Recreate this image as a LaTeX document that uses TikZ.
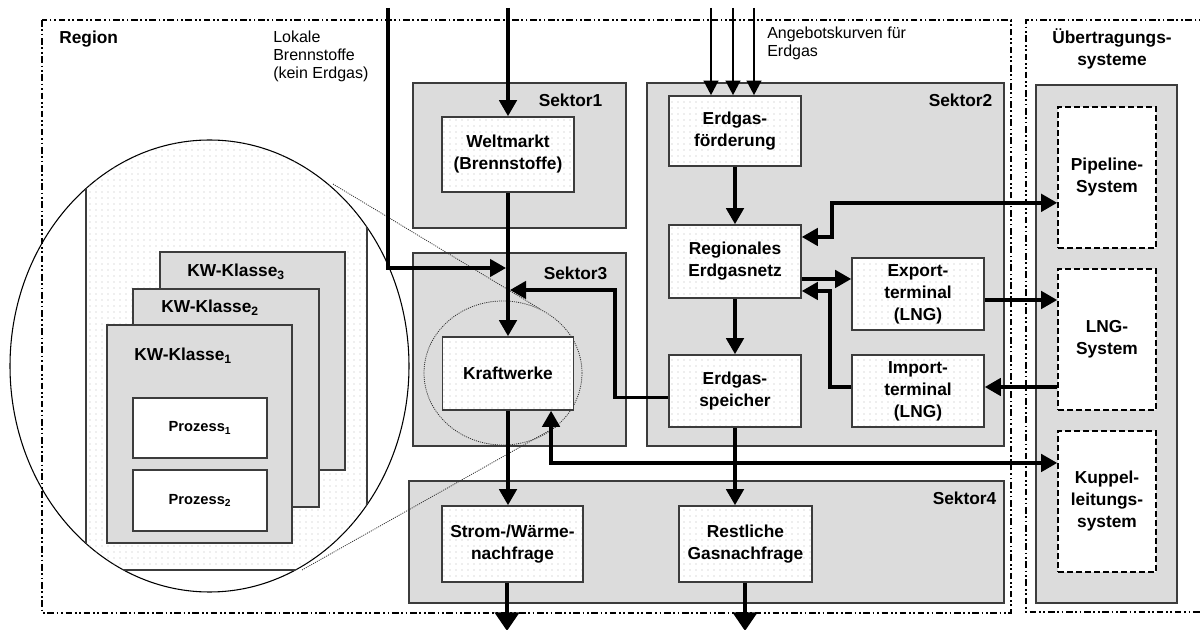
\documentclass[tikz,border=0pt]{standalone}
\usepackage{fontspec}
\setmainfont{Liberation Sans}
\usetikzlibrary{arrows.meta, positioning, calc, shapes.geometric, patterns.meta}

\definecolor{sektorgrau}{RGB}{220,220,220}
\definecolor{randgrau}{RGB}{60,60,60}

\tikzdeclarepattern{
    name=sparsedots,
    bottom left={(-1pt,-1pt)},
    top right={(1pt,1pt)},
    tile size={(4.5pt,4.5pt)},
    code={\fill (0pt,0pt) circle [radius=0.5pt];}
}

\tikzset{
    groesse/.style 2 args={
        minimum width=#1*0.75pt,
        minimum height=#2*0.75pt
    },
    sektor/.style={
        rectangle,
        draw=randgrau,
        line width=0.9pt,
        fill=sektorgrau,
        inner sep=0pt
    },
    komp/.style={
        rectangle,
        draw=randgrau,
        line width=1.2pt,
        preaction={fill=white},
        pattern=sparsedots,
        pattern color=black!28,
        align=center,
        inner sep=1pt,
        font=\fontsize{13}{16.5}\selectfont\bfseries
    },
    system/.style={
        rectangle,
        draw=black,
        line width=1.2pt,
        dash pattern=on 4.5pt off 2.25pt,
        fill=white,
        align=center,
        font=\fontsize{13}{16.5}\selectfont\bfseries
    },
    klasse/.style={
        rectangle,
        draw=randgrau,
        line width=1pt,
        fill=sektorgrau
    },
    prozess/.style={
        rectangle,
        draw=randgrau,
        line width=1pt,
        fill=white,
        font=\fontsize{11}{13}\selectfont\bfseries
    },
    titel/.style={
        inner sep=0pt,
        font=\fontsize{13}{16.5}\selectfont\bfseries
    },
    hinweis/.style={
        inner sep=0pt,
        align=left,
        font=\fontsize{12}{13.2}\selectfont
    },
    rahmen/.style={
        line width=1.3pt,
        dash pattern=on 5pt off 2pt on 1.3pt off 2pt on 1.3pt off 2pt
    },
    lupe/.style={
        ellipse,
        draw=black!80,
        line width=0.6pt,
        dash pattern=on 0.8pt off 0.8pt,
        inner sep=0pt
    },
    zoomlinie/.style={
        draw=black!80,
        line width=0.6pt,
        dash pattern=on 0.8pt off 0.8pt
    },
    pfeil/.style={
        -{Triangle[length=12pt,width=13pt]},
        line width=2.6pt
    },
    doppelpfeil/.style={
        {Triangle[length=12pt,width=13pt]}-{Triangle[length=12pt,width=13pt]},
        line width=2.6pt
    },
    duennpfeil/.style={
        -{Triangle[length=11pt,width=11pt]},
        line width=1.8pt
    },
    ausgang/.style={
        -{Triangle[length=14pt,width=18pt]},
        line width=3.4pt
    }
}

\begin{document}
\begin{tikzpicture}[x=0.75pt, y=-0.75pt]

    \useasboundingbox (0,0) rectangle (1200,630);

    % Rahmen
    \draw[rahmen] (42,20) rectangle (1011,613);
    \draw[rahmen] (1210,20) -| (1026,612) -- (1210,612);

    % Texte oben
    \node[titel, anchor=base west] (region) at (59,44) {Region};
    \node[hinweis, anchor=north west] (lokal) at (273,31) {Lokale\\Brennstoffe\\(kein Erdgas)};
    \node[hinweis, anchor=north west] (angebot) at (767,27) {Angebotskurven für\\Erdgas};
    \node[titel, align=center] (uetitel) at (1112,49) {Übertragungs-\\systeme};

    % Sektoren
    \node[sektor, groesse={213}{145}] (s1) at (519.5,155.5) {};
    \node[sektor, groesse={357}{363}] (s2) at (825.5,264.5) {};
    \node[sektor, groesse={213}{193}] (s3) at (519.5,349.5) {};
    \node[sektor, groesse={595}{122}] (s4) at (706.5,542) {};
    \node[titel, anchor=base east] (s1titel) at ($(s1.north east)+(-24,24)$) {Sektor1};
    \node[titel, anchor=base east] (s2titel) at ($(s2.north east)+(-12,24)$) {Sektor2};
    \node[titel, anchor=base east] (s3titel) at ($(s3.north east)+(-19,27)$) {Sektor3};
    \node[titel, anchor=base east] (s4titel) at ($(s4.north east)+(-8,24)$) {Sektor4};

    % Uebertragungssysteme
    \node[sektor, groesse={141}{518}] (ue) at (1106.5,344) {};
    \node[system, groesse={98}{141}] (pipe) at (1107,177.5) {Pipeline-\\System};
    \node[system, groesse={98}{141}] (lng) at (1107,339.5) {LNG-\\System};
    \node[system, groesse={98}{141}] (kuppel) at (1107,501.5) {Kuppel-\\leitungs-\\system};

    % Lupe um Kraftwerke
    \node[lupe, groesse={158}{144}] (lupe) at (503,373) {};

    % Vergroesserung
    \node[draw, ellipse, line width=0.8pt, inner sep=0pt, groesse={399}{452}] (ring) at (209.5,366) {};
    \begin{scope}
        \clip (209.5,366) ellipse [x radius=199.5, y radius=226];
        \fill[pattern=sparsedots, pattern color=black!28] (86,100) rectangle (367,572);
        \draw[draw=randgrau, line width=0.9pt] (86,100) rectangle (367,570);
    \end{scope}
    \node[klasse, groesse={185}{218}] (kw3) at (252.5,361) {};
    \node[klasse, groesse={186}{218}] (kw2) at (226,398) {};
    \node[klasse, groesse={185}{218}] (kw1) at (199.5,434) {};
    \node[titel, anchor=base west] (kw3titel) at (187,277) {KW-Klasse\textsubscript{3}};
    \node[titel, anchor=base west] (kw2titel) at (161,313) {KW-Klasse\textsubscript{2}};
    \node[titel, anchor=base west] (kw1titel) at (134,361) {KW-Klasse\textsubscript{1}};
    \node[prozess, groesse={134}{60}] (proz1) at (200,428) {Prozess\textsubscript{1}};
    \node[prozess, groesse={134}{61}] (proz2) at (200,500.5) {Prozess\textsubscript{2}};

    \coordinate (zoomoben) at (333,184);
    \coordinate (zoomunten) at (302,570);
    \draw[zoomlinie] (zoomoben) -- (lupe.60);
    \draw[zoomlinie] (zoomunten) -- (lupe.-45);

    % Komponenten
    \node[komp, groesse={132}{75}] (welt) at (508,154.5) {Weltmarkt\\(Brennstoffe)};
    \node[komp, groesse={131}{73}] (kraft) at (508,373.5) {Kraftwerke};
    \node[komp, groesse={132}{70}] (foerd) at (735,131) {Erdgas-\\förderung};
    \node[komp, groesse={132}{73}] (netz) at (735,261.5) {Regionales\\Erdgasnetz};
    \node[komp, groesse={132}{72}] (export) at (918,294) {Export-\\terminal\\(LNG)};
    \node[komp, groesse={132}{72}] (import) at (918,391) {Import-\\terminal\\(LNG)};
    \node[komp, groesse={132}{72}] (speicher) at (735,391) {Erdgas-\\speicher};
    \node[komp, groesse={141}{76}] (strom) at (512.5,544) {Strom-/Wärme-\\nachfrage};
    \node[komp, groesse={133}{76}] (rest) at (745.5,544) {Restliche\\Gasnachfrage};

    % Ein- und Ausgaenge
    \coordinate (ein1) at (508,8);
    \coordinate (ein2) at (388,8);
    \coordinate (knoten1) at (506,268);
    \coordinate (knoten2) at (510,290);
    \coordinate (gas1) at (711,8);
    \coordinate (gas2) at (733,8);
    \coordinate (gas3) at (754,8);
    \coordinate (aus1) at (507,631);
    \coordinate (aus2) at (745,631);

    % Pfeile
    \draw[pfeil] (ein1) -- (welt.north);
    \draw[pfeil] (welt.south) -- (kraft.north);
    \draw[pfeil] (ein2) |- (knoten1);
    \draw[pfeil] ([yshift=-5pt]speicher.west) -| ($(knoten2)+(105,0)$) -- (knoten2);
    \draw[duennpfeil] (gas1) -- (gas1 |- foerd.north);
    \draw[duennpfeil] (gas2) -- (gas2 |- foerd.north);
    \draw[duennpfeil] (gas3) -- (gas3 |- foerd.north);
    \draw[pfeil] (foerd.south) -- (netz.north);
    \draw[pfeil] (netz.south) -- (speicher.north);
    \draw[doppelpfeil] ([yshift=18.4pt]netz.east) -- ++(30,0) |- ([yshift=-19pt]pipe.west);
    \draw[pfeil] ([yshift=-13.1pt]netz.east) -- ([yshift=-13.1pt]netz.east -| export.west);
    \draw[pfeil] ([yshift=3pt]import.west) -- ++(-21,0) |- ([yshift=-22.1pt]netz.east);
    \draw[pfeil] ([yshift=-4.5pt]export.east) -- ([yshift=-4.5pt]export.east -| lng.west);
    \draw[pfeil] ([yshift=3pt]import.east -| lng.west) -- ([yshift=3pt]import.east);
    \draw[doppelpfeil] ([xshift=32.3pt]kraft.south) |- ([yshift=28.9pt]kuppel.west);
    \draw[pfeil] (kraft.south) -- (kraft.south |- strom.north);
    \draw[pfeil] (speicher.south) -- (speicher.south |- rest.north);
    \draw[ausgang] (strom.south -| aus1) -- (aus1);
    \draw[ausgang] (rest.south -| aus2) -- (aus2);

\end{tikzpicture}
\end{document}
